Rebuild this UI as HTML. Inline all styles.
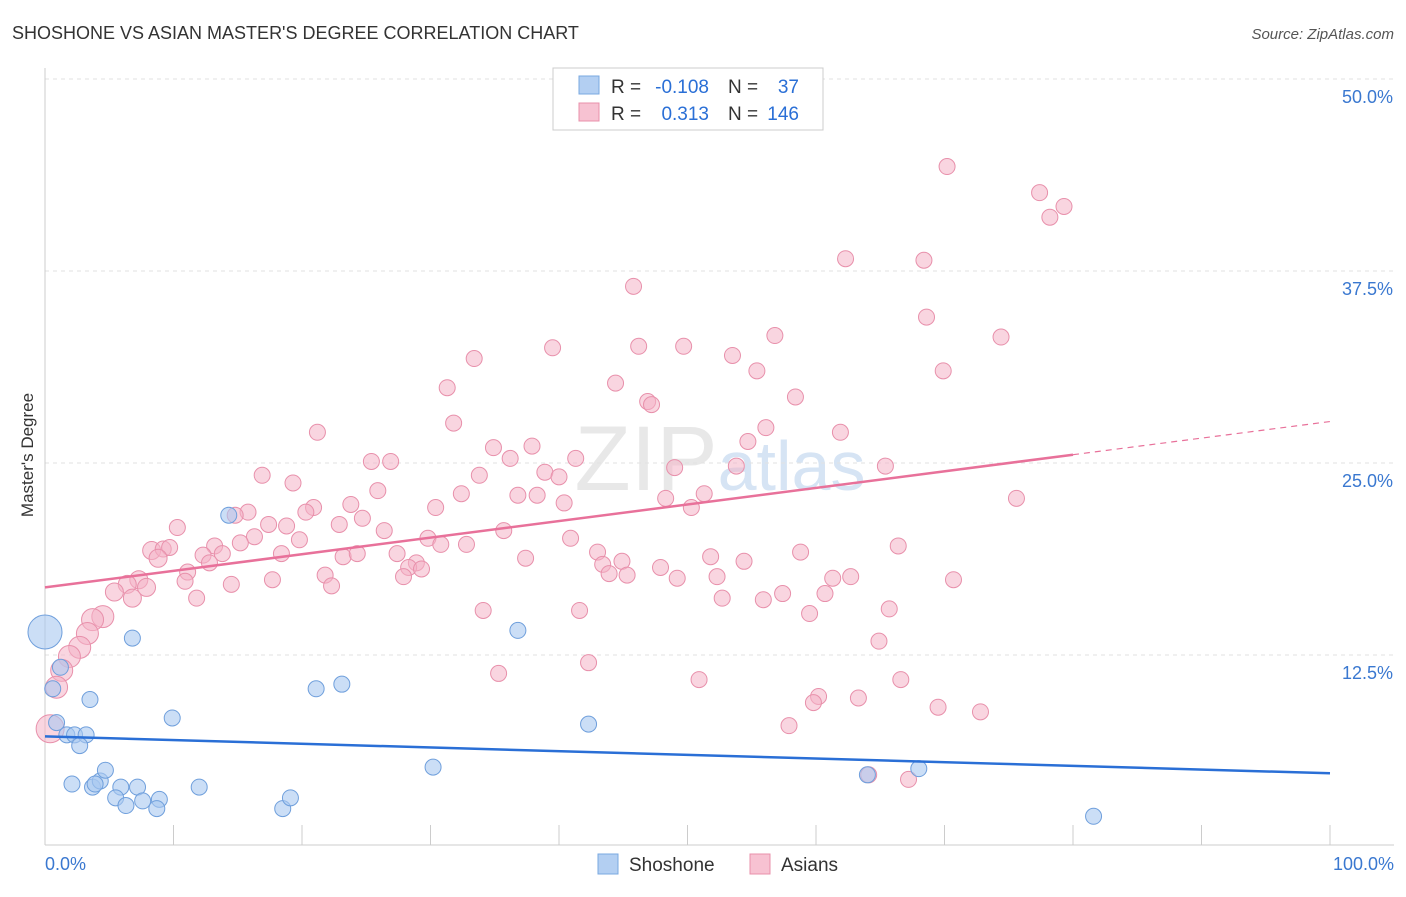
<!DOCTYPE html>
<html><head><meta charset="utf-8">
<style>
body{margin:0;background:#fff;font-family:"Liberation Sans",sans-serif;}
svg text{font-family:"Liberation Sans",sans-serif;}
</style></head>
<body>
<svg id="chart" width="1406" height="892" xmlns="http://www.w3.org/2000/svg">
<text x="12" y="39" font-size="18" fill="#333">SHOSHONE VS ASIAN MASTER'S DEGREE CORRELATION CHART</text>
<text x="1394" y="39" font-size="15" fill="#555" text-anchor="end" font-style="italic">Source: ZipAtlas.com</text>
<text x="720" y="490" font-size="92" text-anchor="middle" fill="#e8e8e8" font-family="Liberation Serif">ZIP<tspan fill="#d6e4f4" font-family="Liberation Sans" font-size="70">atlas</tspan></text>
<text transform="translate(33,455) rotate(-90)" font-size="17" fill="#333" text-anchor="middle">Master's Degree</text>
<g id="grid"></g>
<g id="marks"></g>
<g id="lines"></g>
<g>
<rect x="553" y="68" width="270" height="62" fill="#fff" stroke="#ccc"/>
<rect x="579" y="76" width="20" height="18" fill="#b3cff2" stroke="#7aa8e0"/>
<rect x="579" y="103" width="20" height="18" fill="#f7c2d2" stroke="#e890ab"/>
<text x="611" y="93" font-size="19" fill="#333">R =</text>
<text x="709" y="93" font-size="19" fill="#2a6fd6" text-anchor="end">-0.108</text>
<text x="728" y="93" font-size="19" fill="#333">N =</text>
<text x="799" y="93" font-size="19" fill="#2a6fd6" text-anchor="end">37</text>
<text x="611" y="120" font-size="19" fill="#333">R =</text>
<text x="709" y="120" font-size="19" fill="#2a6fd6" text-anchor="end">0.313</text>
<text x="728" y="120" font-size="19" fill="#333">N =</text>
<text x="799" y="120" font-size="19" fill="#2a6fd6" text-anchor="end">146</text>
</g>
<g>
<rect x="598" y="854" width="20" height="20" fill="#b3cff2" stroke="#7aa8e0"/>
<text x="629" y="871" font-size="19" fill="#333">Shoshone</text>
<rect x="750" y="854" width="20" height="20" fill="#f7c2d2" stroke="#e890ab"/>
<text x="781" y="871" font-size="19" fill="#333">Asians</text>
</g>
</svg>
<script>
const yTicks=[12.5,25,37.5,50];
const yTickLabels=["12.5%","25.0%","37.5%","50.0%"];
const xTickLabels=["0.0%","100.0%"];
const shoshoneX=[0,1.2,0.6,3.5,0.9,1.7,2.3,3.2,2.7,6.8,9.9,14.3,21.1,23.1,36.8,42.3,30.2,64.0,68.0,81.6,2.1,3.7,4.3,4.7,5.9,5.5,6.3,7.2,7.6,8.9,8.7,12.0,18.5,19.1,3.9];
const shoshoneY=[14.0,11.7,10.3,9.6,8.1,7.3,7.3,7.3,6.6,13.6,8.4,21.6,10.3,10.6,14.1,8.0,5.2,4.7,5.1,2.0,4.1,3.9,4.3,5.0,3.9,3.2,2.7,3.9,3.0,3.1,2.5,3.9,2.5,3.2,4.1];
const asianX=[70.2,77.4,79.3,78.2,62.3,68.4,45.8,68.6,74.4,56.8,49.7,46.2,39.5,53.5,33.4,69.9,55.4,44.4,31.3,58.4,46.9,47.2,31.8,56.1,21.2,61.9,54.7,34.9,37.9,36.2,41.3,25.4,26.9,49.0,53.8,65.4,38.9,40.0,16.9,33.8,19.3,25.9,32.4,36.8,38.3,51.3,48.3,75.6,23.8,40.4,20.9,20.3,30.4,50.3,15.8,14.8,24.7,17.4,18.8,22.9,10.3,35.7,26.4,16.3,19.8,15.2,29.8,40.9,30.8,32.8,66.4,8.3,9.2,9.7,13.2,13.8,18.4,23.2,24.3,27.4,43.0,58.8,8.8,12.3,37.4,51.8,54.4,12.8,28.9,44.9,43.4,28.3,29.3,47.9,11.1,21.8,43.9,45.3,27.9,49.2,52.3,61.3,62.7,17.7,70.7,14.5,7.3,10.9,6.4,22.3,7.9,5.4,57.4,60.7,11.8,52.7,55.9,6.8,41.6,34.1,65.7,59.5,4.5,3.7,3.3,64.9,2.7,1.9,42.3,1.3,35.3,50.9,66.6,0.9,60.2,63.3,59.8,69.5,72.8,57.9,0.4,64.1,67.2];
const asianY=[44.3,42.6,41.7,41.0,38.3,38.2,36.5,34.5,33.2,33.3,32.6,32.6,32.5,32.0,31.8,31.0,31.0,30.2,29.9,29.3,29.0,28.8,27.6,27.3,27.0,27.0,26.4,26.0,26.1,25.3,25.3,25.1,25.1,24.7,24.8,24.8,24.4,24.1,24.2,24.2,23.7,23.2,23.0,22.9,22.9,23.0,22.7,22.7,22.3,22.4,22.1,21.8,22.1,22.1,21.8,21.6,21.4,21.0,20.9,21.0,20.8,20.6,20.6,20.2,20.0,19.8,20.1,20.1,19.7,19.7,19.6,19.3,19.4,19.5,19.6,19.1,19.1,18.9,19.1,19.1,19.2,19.2,18.8,19.0,18.8,18.9,18.6,18.5,18.5,18.6,18.4,18.2,18.1,18.2,17.9,17.7,17.8,17.7,17.6,17.5,17.6,17.5,17.6,17.4,17.4,17.1,17.4,17.3,17.1,17.0,16.9,16.6,16.5,16.5,16.2,16.2,16.1,16.2,15.4,15.4,15.5,15.2,15.0,14.8,13.9,13.4,13.0,12.4,12.0,11.5,11.3,10.9,10.9,10.4,9.8,9.7,9.4,9.1,8.8,7.9,7.7,4.7,4.4];
const shoshoneTrend=[7.2,4.8];
const asianTrend=[16.9,27.7];
const asianTrendSolidEnd=80;

const X0=45,X1=1330,Y0=847,YPX=15.36;
const sx=v=>X0+(X1-X0)*v/100;
const sy=v=>Y0-v*YPX;
const NS="http://www.w3.org/2000/svg";
function mk(tag,attrs,parent){const e=document.createElementNS(NS,tag);for(const k in attrs)e.setAttribute(k,attrs[k]);parent.appendChild(e);return e;}
const grid=document.getElementById('grid'),marks=document.getElementById('marks'),lines=document.getElementById('lines');
yTicks.forEach((t,i)=>{
 const l=mk('line',{x1:X0,x2:1394,y1:sy(t),y2:sy(t),stroke:'#e2e2e2','stroke-dasharray':'4,4'},grid);
 
 
 const tx=mk('text',{x:1393,y:sy(t)+24,'font-size':18,fill:'#3a78d0','text-anchor':'end'},grid);
 tx.textContent=yTickLabels[i];
 
 
});
const ax=mk('line',{x1:X0,x2:X0,y1:68,y2:845,stroke:'#ccc'},grid);


const bx=mk('line',{x1:X0,x2:1394,y1:845,y2:845,stroke:'#ccc'},grid);


for(let i=0;i<=10;i++){
 const tk=mk('line',{x1:sx(i*10),x2:sx(i*10),y1:825,y2:845,stroke:'#ccc'},grid);
 
 
}
[[0,'start',45],[100,'end',1394]].forEach((d,i)=>{
 const t=mk('text',{x:d[2],y:870,'font-size':18,fill:'#3a78d0','text-anchor':d[1]},grid);
 t.textContent=xTickLabels[i];
 
 
});
function rad(x){return x<1?(x<0.5?14:11):x<5?11:x<9?9:8;}
asianX.forEach((x,i)=>{
 const c=mk('circle',{cx:sx(x),cy:sy(asianY[i]),r:rad(x),fill:'#f4b3c7','fill-opacity':0.55,stroke:'#e890ab','stroke-width':1},marks);
 
 
});
shoshoneX.forEach((x,i)=>{
 const c=mk('circle',{cx:sx(x),cy:sy(shoshoneY[i]),r:x<0.3?17:8,fill:'#a9c8f0','fill-opacity':0.6,stroke:'#6f9fdc','stroke-width':1},marks);
 
 
});
const at=x=>asianTrend[0]+(asianTrend[1]-asianTrend[0])*x/100;
const l1=mk('line',{x1:sx(0),y1:sy(at(0)),x2:sx(asianTrendSolidEnd),y2:sy(at(asianTrendSolidEnd)),stroke:'#e8719a','stroke-width':2.5},lines);


const l2=mk('line',{x1:sx(asianTrendSolidEnd),y1:sy(at(asianTrendSolidEnd)),x2:sx(100),y2:sy(at(100)),stroke:'#e8719a','stroke-width':1.2,'stroke-dasharray':'6,5'},lines);


const l3=mk('line',{x1:sx(0),y1:sy(shoshoneTrend[0]),x2:sx(100),y2:sy(shoshoneTrend[1]),stroke:'#2a6fd6','stroke-width':2.5},lines);


</script>
</body></html>
